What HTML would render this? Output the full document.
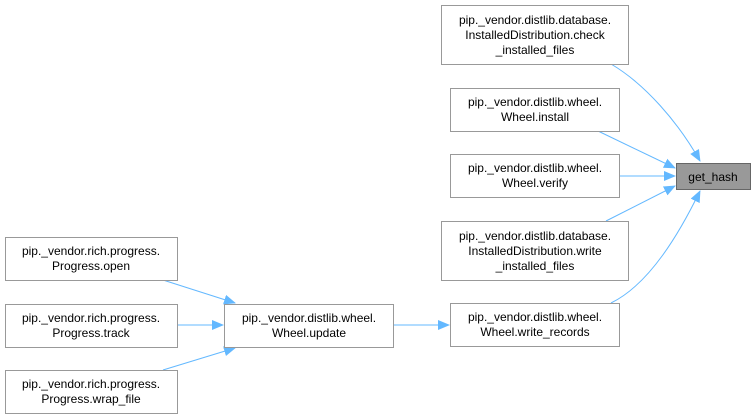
<!DOCTYPE html>
<html><head><meta charset="utf-8"><style>
html,body{margin:0;padding:0;background:#fff;}
svg{display:block;}
text{font-family:"Liberation Sans",sans-serif;font-size:12px;fill:#000;}
</style></head><body>
<svg width="756" height="419" viewBox="0 0 756 419" xmlns="http://www.w3.org/2000/svg">
<defs>
<marker id="ah" markerWidth="12" markerHeight="10" refX="11" refY="5" orient="auto" markerUnits="userSpaceOnUse">
<path d="M0,0 L12,5 L0,10 z" fill="#63b8ff"/>
</marker>
</defs>
<g fill="none" stroke="#63b8ff" stroke-width="1" marker-end="url(#ah)">
<path d="M611,64 C645,84 678,122 700,161"/>
<path d="M598,131 L675,168"/>
<path d="M619,176 L675,176"/>
<path d="M606,221 L675,186"/>
<path d="M611,303 C650,284 680,232 700,191"/>
<path d="M163,280 L235,303"/>
<path d="M178,325 L223,325"/>
<path d="M163,370 L235,348"/>
<path d="M393,325 L449,325"/>
</g>
<g stroke="#999" stroke-width="1" fill="#fff">
<rect x="441.5" y="5.5" width="187" height="59"/>
<rect x="450.5" y="88.5" width="169" height="43"/>
<rect x="450.5" y="154.5" width="169" height="43"/>
<rect x="441.5" y="221.5" width="187" height="59"/>
<rect x="450.5" y="303.5" width="169" height="43"/>
<rect x="224.5" y="304.5" width="169" height="43"/>
<rect x="5.5" y="237.5" width="172" height="43"/>
<rect x="5.5" y="304.5" width="172" height="43"/>
<rect x="5.5" y="370.5" width="172" height="43"/>
<rect x="676.5" y="163.5" width="74" height="26" fill="#999" stroke="#666"/>
</g>
<g text-anchor="middle">
<text x="535" y="24">pip._vendor.distlib.database.</text>
<text x="535" y="39">InstalledDistribution.check</text>
<text x="535" y="54">_installed_files</text>
<text x="535" y="106">pip._vendor.distlib.wheel.</text>
<text x="535" y="121">Wheel.install</text>
<text x="535" y="172">pip._vendor.distlib.wheel.</text>
<text x="535" y="187">Wheel.verify</text>
<text x="535" y="240">pip._vendor.distlib.database.</text>
<text x="535" y="255">InstalledDistribution.write</text>
<text x="535" y="270">_installed_files</text>
<text x="535" y="321">pip._vendor.distlib.wheel.</text>
<text x="535" y="336">Wheel.write_records</text>
<text x="309" y="322">pip._vendor.distlib.wheel.</text>
<text x="309" y="337">Wheel.update</text>
<text x="91" y="255">pip._vendor.rich.progress.</text>
<text x="91" y="270">Progress.open</text>
<text x="91" y="322">pip._vendor.rich.progress.</text>
<text x="91" y="337">Progress.track</text>
<text x="91" y="388">pip._vendor.rich.progress.</text>
<text x="91" y="403">Progress.wrap_file</text>
<text x="713" y="181">get_hash</text>
</g>
</svg>
</body></html>
